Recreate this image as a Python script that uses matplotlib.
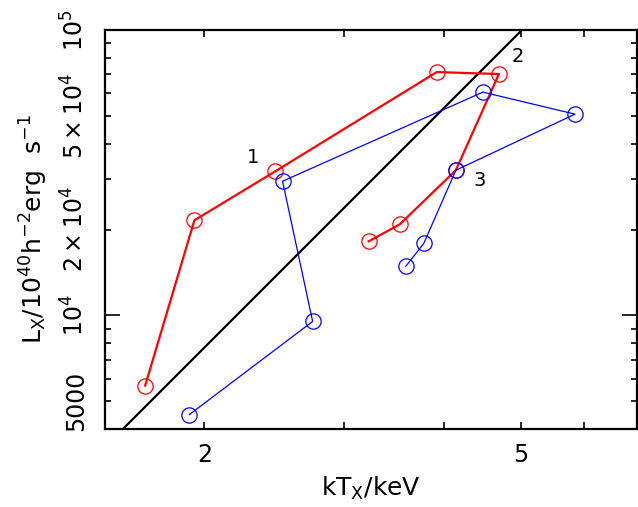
import matplotlib
matplotlib.use("Agg")
import matplotlib.pyplot as plt
from matplotlib.ticker import FixedLocator, FuncFormatter, NullFormatter

plt.rcParams['font.family'] = ['DejaVu Sans']
plt.rcParams['mathtext.fontset'] = 'dejavusans'
plt.rcParams['mathtext.default'] = 'regular'

# red track (temperature / luminosity)
red_t = [1.685, 1.943, 2.457, 3.920, 4.692, 4.142, 3.522, 3.218]
red_l = [5680, 21540, 32010, 71240, 70110, 32270, 20860, 18180]

# blue track
blue_t = [1.915, 2.736, 2.508, 4.479, 5.848, 4.142, 3.775, 3.583]
blue_l = [4494, 9526, 29530, 60600, 50730, 32270, 17890, 14860]

# reference relation (end points)
ref_t = [1.577, 5.015]
ref_l = [3981, 100000]

# numbered annotations
ann_text = ["1", "2", "3"]
ann_t = [2.305, 4.958, 4.440]
ann_l = [35840, 81080, 29770]


def main():
    fig = plt.figure(figsize=(6.38, 5.07), dpi=100)
    ax = fig.add_axes([0.1646, 0.1538, 0.8340, 0.7870])
    ax.set_xscale('log')
    ax.set_yscale('log')

    ax.plot(ref_t, ref_l, color='black', lw=1.6)
    ax.plot(red_t, red_l, color='red', lw=1.6, marker='o', ms=11,
            mfc='none', mec='red', mew=0.9)
    ax.plot(blue_t, blue_l, color='blue', lw=0.9, marker='o', ms=11,
            mfc='none', mec='blue', mew=0.9)

    for s, t, l in zip(ann_text, ann_t, ann_l):
        ax.text(t, l, s, fontsize=14, ha='center', va='center')

    ax.set_xlim(1.5, 7.0)
    ax.set_ylim(4000, 1e5)

    # x ticks
    ax.xaxis.set_major_locator(FixedLocator([2, 5]))
    ax.xaxis.set_major_formatter(FuncFormatter(lambda v, p: "%d" % round(v)))
    ax.xaxis.set_minor_locator(FixedLocator([3, 4, 6, 7]))
    ax.xaxis.set_minor_formatter(NullFormatter())

    # y ticks
    ax.yaxis.set_major_locator(FixedLocator([1e4, 1e5]))
    ylab_major = {1e4: r'$10^4$', 1e5: r'$10^5$'}
    ax.yaxis.set_major_formatter(FuncFormatter(
        lambda v, p: ylab_major.get(round(v), '')))
    minors = [k * 1000 for k in range(4, 10)] + [k * 10000 for k in range(2, 10)]
    ax.yaxis.set_minor_locator(FixedLocator(minors))
    ylab_minor = {5000: '5000', 20000: r'$2\times10^4$', 50000: r'$5\times10^4$'}
    ax.yaxis.set_minor_formatter(FuncFormatter(
        lambda v, p: ylab_minor.get(int(round(v)), '')))

    ax.tick_params(axis='both', which='both', direction='in',
                   top=True, right=True, width=1.2, labelsize=17)
    ax.tick_params(axis='x', which='both', length=5, pad=10)
    ax.tick_params(axis='y', which='major', length=11, pad=12)
    ax.tick_params(axis='y', which='minor', length=4, pad=12)
    for lab in ax.get_yticklabels(which='both'):
        lab.set_rotation(90)
        lab.set_va('center')

    for sp in ax.spines.values():
        sp.set_linewidth(1.6)

    ax.set_xlabel(r'$kT_X$/keV', fontsize=18, labelpad=6)
    ax.set_ylabel(r'$L_X/10^{40}h^{-2}$erg  s$^{-1}$', fontsize=18, labelpad=8)

    fig.savefig('out.png', dpi=100)


if __name__ == '__main__':
    main()
